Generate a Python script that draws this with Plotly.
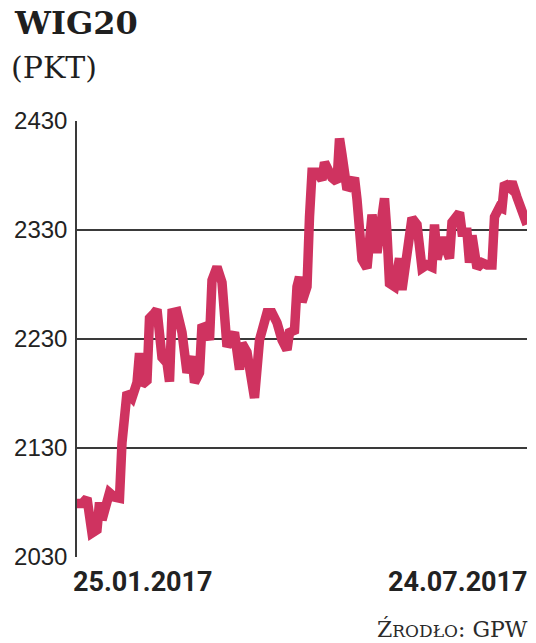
import plotly.graph_objects as go
import pandas as pd

# Day offsets from 25.01.2017 and WIG20 close values
days = [0, 2, 4, 6, 8, 9, 10, 13, 15, 17,
        18, 20, 22, 24, 25, 26, 28, 29, 31, 32,
        34, 36, 37, 38, 40, 42, 44, 46, 47, 49,
        50, 52, 53, 54, 56, 58, 60, 62, 63, 65,
        66, 68, 71, 73, 76, 78, 80, 82, 84, 85,
        87, 88, 89, 90, 92, 93, 94, 96, 98, 99,
        101, 102, 104, 105, 106, 108, 110, 111, 112, 114,
        116, 117, 118, 120, 121, 123, 124, 125, 127, 129,
        130, 132, 134, 136, 138, 140, 142, 143, 144, 146,
        147, 149, 150, 153, 154, 156, 157, 158, 160, 162,
        164, 166, 167, 169, 170, 171, 173, 174, 176, 178,
        179, 180]
values = [2079, 2079, 2084, 2052, 2055, 2080, 2064, 2089, 2085, 2084,
          2135, 2181, 2176, 2190, 2217, 2188, 2192, 2249, 2254, 2257,
          2213, 2208, 2191, 2254, 2255, 2236, 2199, 2214, 2190, 2199,
          2243, 2238, 2229, 2284, 2296, 2282, 2223, 2236, 2236, 2202,
          2226, 2218, 2176, 2229, 2254, 2254, 2245, 2229, 2220, 2236,
          2238, 2278, 2287, 2264, 2278, 2342, 2383, 2383, 2376, 2392,
          2380, 2378, 2374, 2414, 2399, 2367, 2373, 2378, 2358, 2303,
          2295, 2327, 2344, 2309, 2327, 2359, 2327, 2281, 2278, 2304,
          2275, 2307, 2341, 2335, 2295, 2298, 2296, 2335, 2303, 2323,
          2318, 2304, 2337, 2346, 2328, 2328, 2300, 2325, 2295, 2300,
          2298, 2298, 2342, 2351, 2350, 2373, 2369, 2374, 2360, 2344,
          2336, 2335]
y_ticks = [2030, 2130, 2230, 2330, 2430]
start_label = "25.01.2017"
end_label = "24.07.2017"

base = pd.Timestamp("2017-01-25")
dates = base + pd.to_timedelta(days, unit="D")

# page body has an 8px margin, so the figure is drawn 8px smaller and shifted
OFF = 8
W, H = 536 - OFF, 643 - OFF
L, R, T, B = 77 - OFF, 9, 121 - OFF, 86
pw, ph = W - L - R, H - T - B

def px(x):
    # x in window pixels -> paper coordinate
    return (x - OFF - L) / pw

def py(y):
    # y in window pixels -> paper coordinate
    return (H - B - (y - OFF)) / ph

fig = go.Figure()
fig.add_trace(go.Scatter(
    x=dates, y=values, mode="lines",
    line=dict(color="#cf3360", width=9.5),
    hoverinfo="x+y", showlegend=False,
))

fig.update_layout(
    width=W, height=H,
    margin=dict(l=L, r=R, t=T, b=B, autoexpand=False),
    paper_bgcolor="white", plot_bgcolor="white",
    xaxis=dict(
        range=[dates[0], dates[-1]],
        showgrid=False, showticklabels=False, zeroline=False,
        showline=False, ticks="", automargin=False,
    ),
    yaxis=dict(
        range=[y_ticks[0], y_ticks[-1]],
        tickvals=y_ticks,
        ticktext=[str(v) for v in y_ticks],
        showgrid=True, gridcolor="#3a3a3a", gridwidth=1.5,
        zeroline=False, automargin=False,
        showline=True, linecolor="#3a3a3a", linewidth=1.5,
        ticks="", ticklabelstandoff=3,
        tickfont=dict(family="Liberation Sans, Roboto, sans-serif",
                      size=24, color="#222222"),
    ),
    font=dict(family="Roboto, sans-serif", color="#222222"),
)

ann = []
ann.append(dict(text="<b>WIG20</b>", x=px(12), y=py(23), xref="paper", yref="paper",
                xanchor="left", yanchor="middle", showarrow=False,
                font=dict(family="DejaVu Serif, serif", size=32, color="#1f1f1f")))
ann.append(dict(text="(PKT)", x=px(9), y=py(68), xref="paper", yref="paper",
                xanchor="left", yanchor="middle", showarrow=False,
                font=dict(family="DejaVu Serif, serif", size=30, color="#1f1f1f")))
ann.append(dict(text=start_label, x=px(71), y=py(582), xref="paper", yref="paper",
                xanchor="left", yanchor="middle", showarrow=False,
                font=dict(family="Roboto, sans-serif", size=27, color="#222222", weight="bold")))
ann.append(dict(text=end_label, x=px(530), y=py(582), xref="paper", yref="paper",
                xanchor="right", yanchor="middle", showarrow=False,
                font=dict(family="Roboto, sans-serif", size=27, color="#222222", weight="bold")))
ann.append(dict(text="<span style='font-size:22px'>Ź</span>RODŁO<span style='font-size:22px'>: GPW</span>",
                x=px(530), y=py(629), xref="paper", yref="paper",
                xanchor="right", yanchor="middle", showarrow=False,
                font=dict(family="DejaVu Serif, serif", size=17, color="#2a2a2a")))
fig.update_layout(annotations=ann)

fig.write_html("out.html")
